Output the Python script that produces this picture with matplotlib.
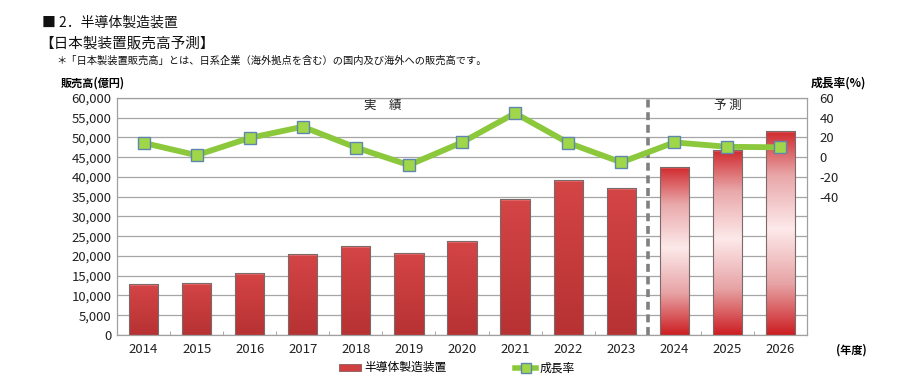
import matplotlib
matplotlib.use("Agg")
import matplotlib.pyplot as plt
import numpy as np
from matplotlib.colors import LinearSegmentedColormap
from matplotlib.patches import Patch
from matplotlib.lines import Line2D

plt.rcParams['font.family'] = ['Noto Sans CJK JP', 'DejaVu Sans']

years = ['2014', '2015', '2016', '2017', '2018', '2019', '2020',
         '2021', '2022', '2023', '2024', '2025', '2026']
sales = [12900, 13200, 15700, 20500, 22500, 20700, 23800,
         34400, 39200, 37200, 42500, 46800, 51600]
growth = [14.5, 2.0, 19.5, 30.8, 9.8, -8.0, 15.0,
          44.5, 14.5, -5.2, 15.0, 10.5, 10.0]
n_actual = 10

fig = plt.figure(figsize=(9, 3.84), dpi=100)
ax = fig.add_axes([0.13, 0.1276, 0.7667, 0.6174])
ax2 = ax.twinx()

x = np.arange(len(years))
w = 0.55

cm_act = LinearSegmentedColormap.from_list('act', ['#b73233', '#c63b3c', '#d44546'])
cm_fc = LinearSegmentedColormap.from_list('fc', [(0, '#cc1e22'), (0.25, '#e7a3a5'), (0.52, '#fde9ea'),
                                                 (0.78, '#e9a8aa'), (1.0, '#d02a2e')])
grad = np.linspace(0, 1, 256).reshape(-1, 1)

bars = ax.bar(x, sales, width=w, color='none', edgecolor='#7a6a6a', linewidth=0.8, zorder=3)
for i, b in enumerate(bars):
    cmap = cm_act if i < n_actual else cm_fc
    im = ax.imshow(grad, cmap=cmap, origin='lower', aspect='auto',
                   extent=[x[i] - w / 2, x[i] + w / 2, 0, sales[i]], zorder=2)
    im.set_clip_path(b)
    ax.bar(x[i], 500, bottom=sales[i] - 500, width=w, color='#e86464' if i < n_actual else '#e04a4c',
           linewidth=0, zorder=2.5)

ax.set_xlim(-0.5, len(years) - 0.5)
ax.set_ylim(0, 60000)
ax.set_yticks(np.arange(0, 60001, 5000))
ax.set_yticklabels([f'{v:,}' for v in range(0, 60001, 5000)], fontsize=9.5, color='#222222')
ax.set_xticks(x)
ax.set_xticklabels(years, fontsize=9.5, color='#222222')
ax.set_xticks(np.arange(-0.5, len(years), 1), minor=True)
ax.tick_params(axis='x', which='major', length=0, pad=6)
ax.tick_params(axis='x', which='minor', length=3, direction='in', color='#999999')
ax.tick_params(axis='y', length=0, pad=4)
ax.grid(axis='y', color='#a6a6a6', linewidth=0.9, zorder=0)
ax.set_axisbelow(True)
for s in ax.spines.values():
    s.set_color('#a0a0a0')
    s.set_linewidth(0.9)
for s in ax2.spines.values():
    s.set_visible(False)

ax.axvline(n_actual - 0.5, color='#808080', linewidth=2.6, linestyle=(0, (2.2, 1.3)), zorder=4)

ax2.plot(x, growth, color='#8cc83c', linewidth=4.2, marker='s', markersize=9,
         markerfacecolor='#9fd64a', markeredgecolor='#5f86b0', markeredgewidth=1.0, zorder=5)
ax2.set_ylim(-180, 60)
ax2.set_yticks([60, 40, 20, 0, -20, -40])
ax2.set_yticklabels(['60', '40', '20', '0', '-20', '-40'], fontsize=9.5, color='#222222')
ax2.tick_params(axis='y', length=0, pad=9)
ax2.set_zorder(ax.get_zorder() + 1)
ax2.patch.set_visible(False)

ax.text((n_actual - 1) / 2, 58000, '実　績', ha='center', va='center', fontsize=9, color='#222222', zorder=6)
ax.text((n_actual - 0.5 + len(years) - 0.5) / 2, 58000, '予 測', ha='center', va='center',
        fontsize=9, color='#222222', zorder=6)

fig.text(0.047, 0.94, '■ 2．半導体製造装置', fontsize=10, va='center', ha='left', color='#111111')
fig.text(0.044, 0.888, '【日本製装置販売高予測】', fontsize=10.5, va='center', ha='left', color='#111111')
fig.text(0.063, 0.842, '＊「日本製装置販売高」とは、日系企業（海外拠点を含む）の国内及び海外への販売高です。',
         fontsize=7.4, va='center', ha='left', color='#111111')
fig.text(0.068, 0.785, '販売高(億円)', fontsize=8, fontweight='bold', va='center', ha='left')
fig.text(0.901, 0.785, '成長率(%)', fontsize=8.5, fontweight='bold', va='center', ha='left')
fig.text(0.946, 0.089, '(年度)', fontsize=8, fontweight='bold', va='center', ha='center')

handles = [Patch(facecolor='#d04040', edgecolor='#8a5a5a', linewidth=0.6),
           Line2D([0], [0], color='#8cc83c', linewidth=4, marker='s', markersize=7,
                  markerfacecolor='#9fd64a', markeredgecolor='#5f86b0')]
fig.legend(handles, ['半導体製造装置', '成長率'], loc='center', bbox_to_anchor=(0.508, 0.042),
           ncol=2, frameon=False, fontsize=8.5, handlelength=1.8, handletextpad=0.3,
           columnspacing=5.8, handleheight=0.5)

fig.savefig('out.png', dpi=100)
